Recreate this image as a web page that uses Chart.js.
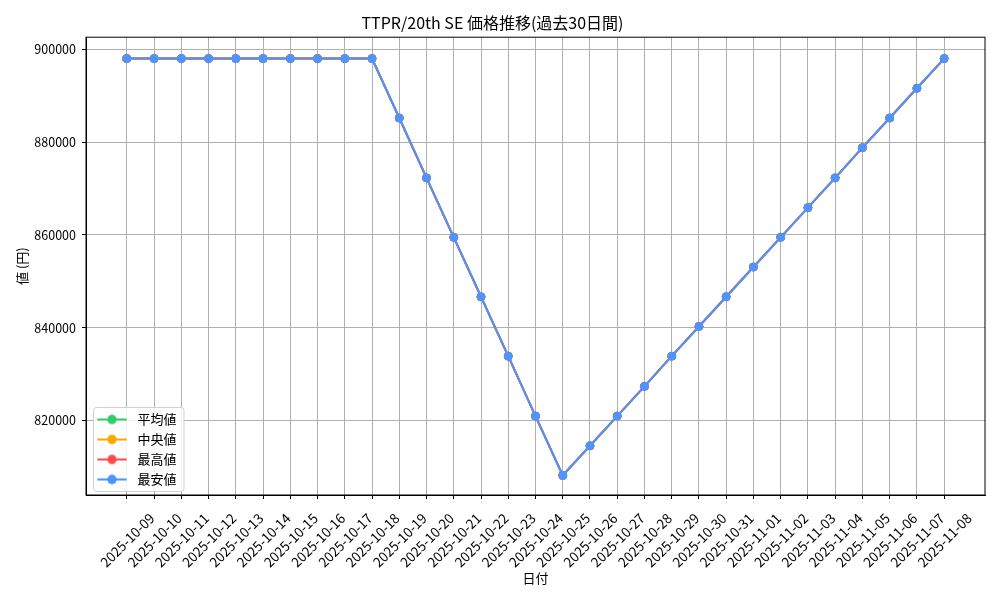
<!DOCTYPE html>
<html lang="ja">
<head>
    <meta charset="UTF-8">
    <title>TTPR/20th SE 価格推移</title>
    <script src="https://cdn.jsdelivr.net/npm/chart.js"></script>
    <style>
        body {
            margin: 0;
            background: #ffffff;
        }
        #wrap {
            width: 1000px;
            height: 600px;
        }
    </style>
</head>
<body>
    <div id="wrap">
        <canvas id="priceChart" width="1000" height="600"></canvas>
    </div>

    <script>
        const dates = [
            '2025-10-09', '2025-10-10', '2025-10-11', '2025-10-12', '2025-10-13',
            '2025-10-14', '2025-10-15', '2025-10-16', '2025-10-17', '2025-10-18',
            '2025-10-19', '2025-10-20', '2025-10-21', '2025-10-22', '2025-10-23',
            '2025-10-24', '2025-10-25', '2025-10-26', '2025-10-27', '2025-10-28',
            '2025-10-29', '2025-10-30', '2025-10-31', '2025-11-01', '2025-11-02',
            '2025-11-03', '2025-11-04', '2025-11-05', '2025-11-06', '2025-11-07',
            '2025-11-08'
        ];

        // all four series sit on top of each other in the picture
        const avgPrices = [
            898000, 898000, 898000, 898000, 898000, 898000, 898000, 898000, 898000, 898000,
            885200, 872300, 859500, 846700, 833900, 821000, 808200, 814600, 821000, 827400,
            833900, 840300, 846700, 853100, 859500, 865900, 872300, 878800, 885200, 891600,
            898000
        ];
        const medianPrices = [
            898000, 898000, 898000, 898000, 898000, 898000, 898000, 898000, 898000, 898000,
            885200, 872300, 859500, 846700, 833900, 821000, 808200, 814600, 821000, 827400,
            833900, 840300, 846700, 853100, 859500, 865900, 872300, 878800, 885200, 891600,
            898000
        ];
        const maxPrices = [
            898000, 898000, 898000, 898000, 898000, 898000, 898000, 898000, 898000, 898000,
            885200, 872300, 859500, 846700, 833900, 821000, 808200, 814600, 821000, 827400,
            833900, 840300, 846700, 853100, 859500, 865900, 872300, 878800, 885200, 891600,
            898000
        ];
        const minPrices = [
            898000, 898000, 898000, 898000, 898000, 898000, 898000, 898000, 898000, 898000,
            885200, 872300, 859500, 846700, 833900, 821000, 808200, 814600, 821000, 827400,
            833900, 840300, 846700, 853100, 859500, 865900, 872300, 878800, 885200, 891600,
            898000
        ];

        const yTicks = [820000, 840000, 860000, 880000, 900000];

        const FONT = '"Noto Sans CJK JP", "Noto Sans", sans-serif';
        const GRID = '#b0b0b0';

        // legend icon: short line with a dot in the middle
        function makeLegendIcon(color) {
            const c = document.createElement('canvas');
            c.width = 38;
            c.height = 12;
            const ctx = c.getContext('2d');
            ctx.strokeStyle = color;
            ctx.lineWidth = 2;
            ctx.beginPath();
            ctx.moveTo(4.3, 6);
            ctx.lineTo(33.7, 6);
            ctx.stroke();
            ctx.fillStyle = color;
            ctx.beginPath();
            ctx.arc(19, 6, 4.7, 0, Math.PI * 2);
            ctx.fill();
            return c;
        }

        function makeSeries(label, values, color, order) {
            return {
                label: label,
                data: values.map((v, i) => ({ x: i, y: v })),
                borderColor: color,
                backgroundColor: color,
                pointBackgroundColor: color,
                pointBorderColor: color,
                borderWidth: 2,
                pointRadius: 4,
                pointBorderWidth: 1,
                tension: 0,
                fill: false,
                order: order,
                icon: makeLegendIcon(color)
            };
        }

        const framePlugin = {
            id: 'frame',
            // a legend inside the chart area is laid out from y=0, move it down
            afterLayout(chart) {
                const lg = chart.legend;
                const dy = chart.chartArea.top - 2;
                lg.top += dy;
                lg.bottom += dy;
                lg.legendHitBoxes.forEach(h => { h.top += dy; });
            },
            // top/right spines and the legend frame, legend redrawn on top of the lines
            afterDraw(chart) {
                const ctx = chart.ctx;
                const a = chart.chartArea;
                ctx.save();
                ctx.strokeStyle = '#000000';
                ctx.lineWidth = 1;
                ctx.strokeRect(a.left, a.top, a.right - a.left, a.bottom - a.top);

                const boxes = chart.legend.legendHitBoxes;
                if (boxes && boxes.length) {
                    let l = Infinity, t = Infinity, r = -Infinity, b = -Infinity;
                    boxes.forEach(h => {
                        l = Math.min(l, h.left);
                        t = Math.min(t, h.top);
                        r = Math.max(r, h.left + h.width);
                        b = Math.max(b, h.top + h.height);
                    });
                    t -= 6; r += 7; b += 5;
                    ctx.fillStyle = 'rgba(255,255,255,0.85)';
                    ctx.strokeStyle = '#d0d0d0';
                    ctx.beginPath();
                    ctx.roundRect(l + 0.5, t + 0.5, r - l, b - t, 3);
                    ctx.fill();
                    ctx.stroke();
                }
                ctx.restore();
                chart.legend.draw();
            }
        };

        new Chart(document.getElementById('priceChart').getContext('2d'), {
            type: 'line',
            data: {
                datasets: [
                    makeSeries('平均値', avgPrices, '#33cc66', 3),
                    makeSeries('中央値', medianPrices, '#ffa500', 2),
                    makeSeries('最高値', maxPrices, '#ff4d4d', 1),
                    makeSeries('最安値', minPrices, '#4d94ff', 0)
                ]
            },
            options: {
                responsive: false,
                animation: false,
                devicePixelRatio: 1,
                layout: {
                    padding: { top: 0, right: 15, bottom: 0, left: 0 }
                },
                plugins: {
                    title: {
                        display: true,
                        text: 'TTPR/20th SE 価格推移(過去30日間)',
                        color: '#000000',
                        font: { family: FONT, size: 16, weight: 'normal', lineHeight: 1.2 },
                        padding: { top: 13, bottom: 5 }
                    },
                    legend: {
                        position: 'chartArea',
                        align: 'end',
                        labels: {
                            color: '#000000',
                            font: { family: FONT, size: 13, lineHeight: 1.2 },
                            usePointStyle: true,
                            pointStyleWidth: 38,
                            padding: 7,
                            sort: (a, b) => a.datasetIndex - b.datasetIndex,
                            generateLabels(chart) {
                                const items = Chart.defaults.plugins.legend.labels.generateLabels(chart);
                                items.forEach(it => {
                                    it.pointStyle = chart.data.datasets[it.datasetIndex].icon;
                                });
                                return items;
                            }
                        }
                    },
                    tooltip: { enabled: false }
                },
                scales: {
                    x: {
                        type: 'linear',
                        min: -1.5,
                        max: 31.5,
                        afterBuildTicks(scale) {
                            scale.ticks = dates.map((d, i) => ({ value: i }));
                        },
                        afterFit(scale) {
                            scale.height = 105;
                        },
                        ticks: {
                            autoSkip: false,
                            maxRotation: 45,
                            minRotation: 45,
                            color: '#000000',
                            padding: 11,
                            labelOffset: 25,
                            font: { family: FONT, size: 13.5 },
                            callback: value => dates[value]
                        },
                        grid: {
                            color: GRID,
                            lineWidth: 1,
                            tickColor: '#000000',
                            tickLength: 4
                        },
                        border: { color: '#000000', width: 1 },
                        title: {
                            display: true,
                            text: '日付',
                            color: '#000000',
                            font: { family: FONT, size: 13, lineHeight: 1.2 },
                            padding: { top: 14, bottom: 14 }
                        }
                    },
                    y: {
                        min: 804000,
                        max: 902600,
                        afterBuildTicks(scale) {
                            scale.ticks = yTicks.map(v => ({ value: v }));
                        },
                        afterFit(scale) {
                            scale.width = 86;
                        },
                        ticks: {
                            color: '#000000',
                            padding: 6,
                            font: { family: FONT, size: 12.5 },
                            callback: value => String(value)
                        },
                        grid: {
                            color: GRID,
                            lineWidth: 1,
                            tickColor: '#000000',
                            tickLength: 4
                        },
                        border: { color: '#000000', width: 1 },
                        title: {
                            display: true,
                            text: '値 (円)',
                            color: '#000000',
                            font: { family: FONT, size: 13, lineHeight: 1.2 },
                            padding: { top: 14, bottom: 14 }
                        }
                    }
                }
            },
            plugins: [framePlugin]
        });
    </script>
</body>
</html>
